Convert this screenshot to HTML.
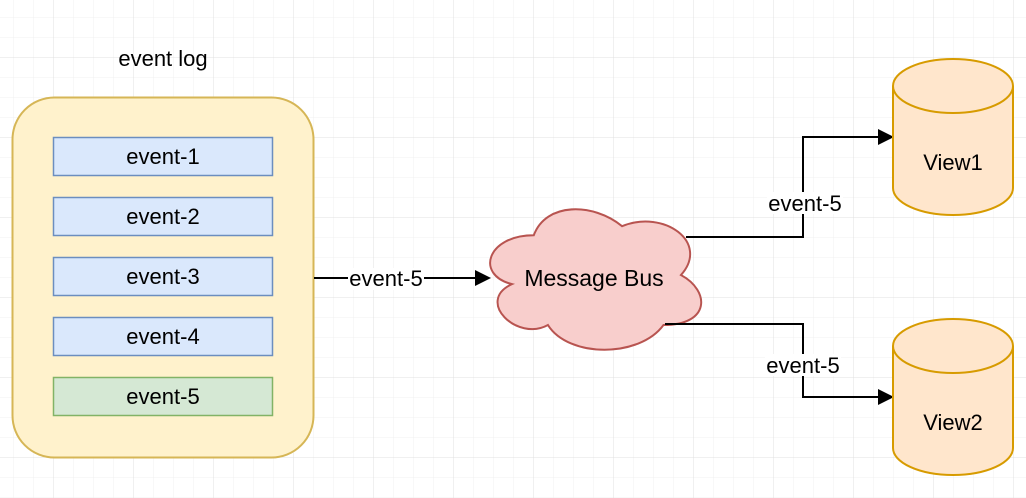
<!DOCTYPE html>
<html><head><style>body{margin:0;background:#fff}svg{display:block}</style></head><body>
<svg width="1026" height="498" xmlns="http://www.w3.org/2000/svg" font-family="Liberation Sans, sans-serif">
<defs>
<pattern id="minor" x="13" y="17" width="20" height="20" patternUnits="userSpaceOnUse"><path d="M0 0H20M0 0V20" stroke="#f0f0f0" stroke-width="1" fill="none"/></pattern>
<pattern id="major" x="53" y="57" width="80" height="80" patternUnits="userSpaceOnUse"><path d="M0 0H80M0 0V80" stroke="#e0e0e0" stroke-width="1" fill="none"/></pattern>
</defs>
<rect width="1026" height="498" fill="url(#minor)"/>
<rect width="1026" height="498" fill="url(#major)"/>
<text x="163" y="66" font-size="22" text-anchor="middle">event log</text>
<rect x="12.5" y="97.5" width="301" height="360" rx="42" fill="#fff2cc" stroke="#d6b656" stroke-width="2"/>
<g stroke="#6c8ebf" fill="#dae8fc" stroke-width="1.5">
<rect x="53.5" y="137.5" width="219" height="38"/>
<rect x="53.5" y="197.5" width="219" height="38"/>
<rect x="53.5" y="257.5" width="219" height="38"/>
<rect x="53.5" y="317.5" width="219" height="38"/>
<rect x="53.5" y="377.5" width="219" height="38" fill="#d5e8d4" stroke="#82b366"/>
</g>
<g font-size="22" text-anchor="middle">
<text x="163" y="164">event-1</text>
<text x="163" y="224">event-2</text>
<text x="163" y="284">event-3</text>
<text x="163" y="344">event-4</text>
<text x="163" y="404">event-5</text>
</g>
<g transform="translate(488,208) scale(1.09,1.136) translate(-500,-218)">
<path d="M542 242 C499 242 488 277 522 285 C488 300 527 336 555 321 C574 350 639 350 661 321 C704 321 704 291 677 277 C704 248 661 219 623 234 C596 213 553 213 542 242 Z" fill="#f8cecc" stroke="#b85450" stroke-width="1.8"/>
</g>
<text x="594" y="286" font-size="23" text-anchor="middle">Message Bus</text>
<g stroke="#000" stroke-width="2" fill="none">
<path d="M314 278H478"/>
<path d="M686 237H803V137H880"/>
<path d="M665 324H803V397H880"/>
</g>
<g fill="#000">
<path d="M491 278L475 270V286Z"/>
<path d="M894 137L878 129V145Z"/>
<path d="M894 397L878 389V405Z"/>
</g>
<g font-size="22" text-anchor="middle">
<rect x="348" y="268" width="76" height="22" fill="#fff"/>
<text x="386" y="286">event-5</text>
<rect x="767" y="192" width="76" height="22" fill="#fff"/>
<text x="805" y="211">event-5</text>
<rect x="765" y="354" width="76" height="22" fill="#fff"/>
<text x="803" y="373">event-5</text>
</g>
<g fill="#ffe6cc" stroke="#d79b00" stroke-width="2">
<path d="M893 86A60 27 0 0 1 1013 86V188A60 27 0 0 1 893 188Z"/>
<path d="M893 86A60 27 0 0 0 1013 86" fill="none"/>
<path d="M893 346A60 27 0 0 1 1013 346V448A60 27 0 0 1 893 448Z"/>
<path d="M893 346A60 27 0 0 0 1013 346" fill="none"/>
</g>
<g font-size="22" text-anchor="middle">
<text x="953" y="170">View1</text>
<text x="953" y="430">View2</text>
</g>
</svg>
</body></html>
